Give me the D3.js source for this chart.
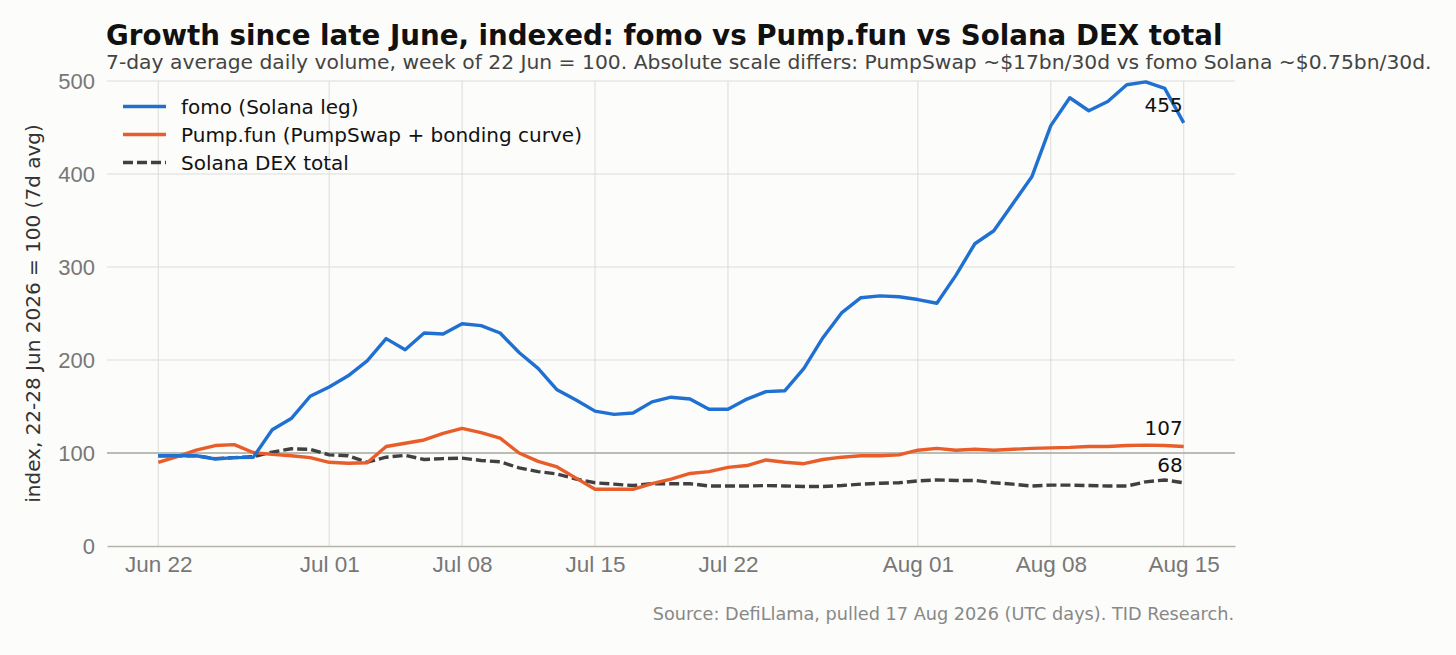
<!DOCTYPE html>
<html>
<head>
<meta charset="utf-8">
<script src="https://cdn.jsdelivr.net/npm/d3@7"></script>
<style>
  html, body { margin: 0; padding: 0; background: #fcfcfa; }
  svg { display: block; font-family: "DejaVu Sans", sans-serif; }
</style>
</head>
<body>
<div id="chart"></div>
<script>
// Daily dates, 22 Jun to 15 Aug 2026
const dates = d3.timeDays(new Date(2026, 5, 22), new Date(2026, 7, 16));

// 7d avg volume indexed, week of 22 Jun = 100
const fomo = [97, 97, 97, 93.5, 95, 95.3, 125, 137, 161, 171,
  183, 199, 223, 211, 229, 228, 239, 237, 229, 208,
  191, 168, 157, 145, 141.5, 143, 155, 160, 158, 147,
  147, 158, 166, 167, 191, 224, 251, 267, 269, 268,
  265, 261, 291, 325, 339, 368, 397, 452, 482, 468,
  478, 496, 499, 492, 455];
const pump = [90, 96, 103, 108, 109, 100.5, 98.5, 97, 95, 90,
  89, 89.5, 107, 110.5, 114, 121, 126.5, 122, 116, 100,
  91, 85, 73, 61, 61, 61, 67, 72, 78, 80,
  84.5, 86.5, 92.5, 90, 88.5, 93, 95.5, 97, 97, 98,
  103, 105, 103, 104, 103, 104, 105, 105.5, 106, 107,
  107, 108, 108.5, 108, 107];
const solana = [97, 97, 97, 94, 95, 96, 101, 104.5, 104, 98,
  97, 90, 95.5, 97.5, 93, 94, 94.5, 92, 90.5, 84,
  80, 77.5, 72, 68, 66.5, 65, 67, 67, 67, 64.5,
  64.5, 64.5, 65, 64.5, 64, 64, 65, 66.5, 67.5, 68,
  70, 71, 70.5, 70.5, 68, 66.5, 64.5, 65.5, 65.5, 65,
  64.5, 64.5, 69, 71, 68];

const seriesNames = ["fomo (Solana leg)", "Pump.fun (PumpSwap + bonding curve)", "Solana DEX total"];
const xTickDates = [new Date(2026, 5, 22), new Date(2026, 6, 1), new Date(2026, 6, 8), new Date(2026, 6, 15),
  new Date(2026, 6, 22), new Date(2026, 7, 1), new Date(2026, 7, 8), new Date(2026, 7, 15)];
const yTicks = [0, 100, 200, 300, 400, 500];

const W = 1456, H = 655;
const plot = {left: 107, right: 1235, top: 81, bottom: 546};

const svg = d3.select("#chart").append("svg")
  .attr("width", W).attr("height", H);

svg.append("rect").attr("width", W).attr("height", H).attr("fill", "#fcfcfa");

// x has matplotlib-style 5% padding either side
const pad = (dates[dates.length - 1] - dates[0]) * 0.05;
const x = d3.scaleTime()
  .domain([new Date(+dates[0] - pad), new Date(+dates[dates.length - 1] + pad)])
  .range([plot.left, plot.right]);
const y = d3.scaleLinear().domain([0, 500]).range([plot.bottom, plot.top]);

// grid
svg.append("g").selectAll("line.h")
  .data(yTicks.filter(d => d > 0))
  .join("line")
    .attr("x1", plot.left).attr("x2", plot.right)
    .attr("y1", d => y(d)).attr("y2", d => y(d))
    .attr("stroke", "#dcdcda").attr("stroke-width", 1);
svg.append("g").selectAll("line.v")
  .data(xTickDates)
  .join("line")
    .attr("x1", d => x(d)).attr("x2", d => x(d))
    .attr("y1", plot.top).attr("y2", plot.bottom)
    .attr("stroke", "#dcdcda").attr("stroke-width", 1);

// baseline at 100
svg.append("line")
  .attr("x1", plot.left).attr("x2", plot.right)
  .attr("y1", y(100)).attr("y2", y(100))
  .attr("stroke", "#adada6").attr("stroke-width", 1.6);

// axes
const xAxis = svg.append("g")
  .attr("transform", `translate(0,${plot.bottom})`)
  .call(d3.axisBottom(x).tickValues(xTickDates).tickFormat(d3.timeFormat("%b %d")).tickSize(0).tickPadding(10));
xAxis.select(".domain").attr("stroke", "#b4b4ad").attr("stroke-width", 1.6);
xAxis.selectAll("text").attr("fill", "#777").style("font-size", "22.5px");

const yAxis = svg.append("g")
  .attr("transform", `translate(${plot.left},0)`)
  .call(d3.axisLeft(y).tickValues(yTicks).tickSize(0).tickPadding(12));
yAxis.select(".domain").remove();
yAxis.selectAll("text").attr("fill", "#777").style("font-size", "22px");

// lines
const line = d3.line().x((d, i) => x(dates[i])).y(d => y(d));

svg.append("path").datum(solana)
  .attr("d", line).attr("fill", "none")
  .attr("stroke", "#404040").attr("stroke-width", 3.4).attr("stroke-dasharray", "10,4");
svg.append("path").datum(pump)
  .attr("d", line).attr("fill", "none")
  .attr("stroke", "#e85d2a").attr("stroke-width", 3.4).attr("stroke-linejoin", "round");
svg.append("path").datum(fomo)
  .attr("d", line).attr("fill", "none")
  .attr("stroke", "#2070d2").attr("stroke-width", 3.4).attr("stroke-linejoin", "round");

// end labels
const last = dates.length - 1;
[fomo, pump, solana].forEach(s => {
  svg.append("text")
    .attr("x", x(dates[last]) - 1)
    .attr("y", y(s[last]) - 11)
    .attr("text-anchor", "end")
    .attr("fill", "#111")
    .style("font-size", "20px")
    .text(Math.round(s[last]));
});

// legend
const legendStyles = [
  {color: "#2070d2", dash: null},
  {color: "#e85d2a", dash: null},
  {color: "#404040", dash: "10,4"}
];
const legend = svg.append("g").attr("transform", "translate(123,106.5)");
seriesNames.forEach((name, i) => {
  const row = legend.append("g").attr("transform", `translate(0,${i * 28})`);
  row.append("line")
    .attr("x1", 0).attr("x2", 43)
    .attr("stroke", legendStyles[i].color).attr("stroke-width", 3.4)
    .attr("stroke-dasharray", legendStyles[i].dash);
  row.append("text")
    .attr("x", 58).attr("dy", "0.35em")
    .attr("fill", "#111").style("font-size", "20px")
    .text(name);
});

// titles
svg.append("text")
  .attr("x", 106).attr("y", 45)
  .attr("fill", "#111").style("font-size", "27.7px").style("font-weight", "bold")
  .text("Growth since late June, indexed: fomo vs Pump.fun vs Solana DEX total");
svg.append("text")
  .attr("x", 106).attr("y", 69)
  .attr("fill", "#444").style("font-size", "20.3px")
  .text("7-day average daily volume, week of 22 Jun = 100. Absolute scale differs: PumpSwap ~$17bn/30d vs fomo Solana ~$0.75bn/30d.");

// y label
svg.append("text")
  .attr("transform", `translate(40,${(plot.top + plot.bottom) / 2}) rotate(-90)`)
  .attr("text-anchor", "middle")
  .attr("fill", "#333").style("font-size", "20px")
  .text("index, 22-28 Jun 2026 = 100 (7d avg)");

// source
svg.append("text")
  .attr("x", 1234).attr("y", 620)
  .attr("text-anchor", "end")
  .attr("fill", "#888").style("font-size", "17.7px")
  .text("Source: DefiLlama, pulled 17 Aug 2026 (UTC days). TID Research.");
</script>
</body>
</html>
